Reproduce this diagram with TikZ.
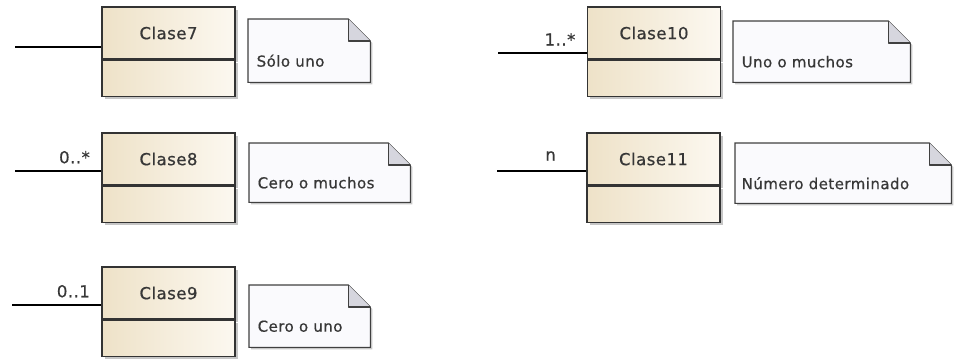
\documentclass[tikz,border=0pt]{standalone}
\usepackage{fontspec}
\setmainfont[LetterSpace=3,FakeBold=0.6]{DejaVu Sans}
\usetikzlibrary{positioning,shadows}
\definecolor{claseL}{RGB}{238,226,200}
\definecolor{claseR}{RGB}{252,248,240}
\definecolor{notaF}{RGB}{250,250,253}
\definecolor{pliegue}{RGB}{214,214,222}
\definecolor{texto}{RGB}{55,55,55}
\tikzset{
  every node/.style={
    inner sep=1.5pt,
    text=texto
  },
  clase/.style={
    draw=black!80,
    line width=1.3pt,
    left color=claseL,
    right color=claseR,
    minimum width=133pt,
    drop shadow={shadow xshift=2.5pt, shadow yshift=-2.5pt, opacity=.45}
  },
  nombre/.style={clase, minimum height=52pt, font=\fontsize{16.5}{19}\selectfont},
  cuerpo/.style={clase, minimum height=36pt},
  nota/.style={anchor=north west, inner sep=0pt},
  notatexto/.style={font=\fontsize{15}{17}\selectfont},
  asoc/.style={line width=2pt, black},
  mult/.style={anchor=south east, xshift=-9pt, yshift=5pt, font=\fontsize{16.5}{18}\selectfont}
}

\begin{document}
\begin{tikzpicture}[x=1pt,y=-1pt]
    \useasboundingbox (0,0) rectangle (955,360);

    % clases
    \node[nombre] (c7) at (168.5,33) {Clase7};
    \node[cuerpo, below=0pt of c7] (c7b) {};
    \node[nombre] (c8) at (168.5,159) {Clase8};
    \node[cuerpo, below=0pt of c8] (c8b) {};
    \node[nombre] (c9) at (168.5,293) {Clase9};
    \node[cuerpo, below=0pt of c9] (c9b) {};
    \node[nombre] (c10) at (654,33) {Clase10};
    \node[cuerpo, below=0pt of c10] (c10b) {};
    \node[nombre] (c11) at (653.5,159) {Clase11};
    \node[cuerpo, below=0pt of c11] (c11b) {};

    % extremos libres
    \coordinate (e7) at (15,47);
    \coordinate (e8) at (15,171);
    \coordinate (e9) at (12,305);
    \coordinate (e10) at (498,53);
    \coordinate (e11) at (497,171);

    % asociaciones
    \draw[asoc] (e7) -- (e7 -| c7.west);
    \draw[asoc] (e8) -- (e8 -| c8.west) node[mult] {0..*};
    \draw[asoc] (e9) -- (e9 -| c9.west) node[mult] {0..1};
    \draw[asoc] (e10) -- (e10 -| c10.west) node[mult] {1..*};
    \draw[asoc] (e11) -- (e11 -| c11.west) node[mult, xshift=-19pt, yshift=3pt] {n};

    % notas
    \node[nota, minimum width=122pt, minimum height=63pt] (n7) at (248,19) {};
    \node[nota, minimum width=161pt, minimum height=59pt] (n8) at (249,143) {};
    \node[nota, minimum width=121pt, minimum height=62pt] (n9) at (249,285) {};
    \node[nota, minimum width=177pt, minimum height=61pt] (n10) at (733,21) {};
    \node[nota, minimum width=216pt, minimum height=60pt] (n11) at (735,143) {};
    \foreach \n in {n7,n8,n9,n10,n11}{
      \fill[black!22] ([shift={(2,2)}]\n.north west) -- ([shift={(-22,2)}]\n.north east)
        -- ([shift={(2,24)}]\n.north east) -- ([shift={(2,2)}]\n.south east)
        -- ([shift={(2,2)}]\n.south west) -- cycle;
      \filldraw[fill=notaF, draw=black!75, line width=1.1pt] (\n.north west)
        -- ([xshift=-22pt]\n.north east) -- ([yshift=-22pt]\n.north east)
        -- (\n.south east) -- (\n.south west) -- cycle;
      \filldraw[fill=pliegue, draw=black!75, line width=1.1pt, line join=round]
        ([xshift=-22pt]\n.north east) -- ([xshift=-22pt,yshift=-22pt]\n.north east)
        -- ([yshift=-22pt]\n.north east);
    }
    \node[notatexto, right=7pt of n7.west, yshift=-10pt] (t7) {Sólo uno};
    \node[notatexto, right=7pt of n8.west, yshift=-10pt] (t8) {Cero o muchos};
    \node[notatexto, right=7pt of n9.west, yshift=-10pt] (t9) {Cero o uno};
    \node[notatexto, right=7pt of n10.west, yshift=-10pt] (t10) {Uno o muchos};
    \node[notatexto, right=5pt of n11.west, yshift=-10pt] (t11) {Número determinado};
\end{tikzpicture}
\end{document}
